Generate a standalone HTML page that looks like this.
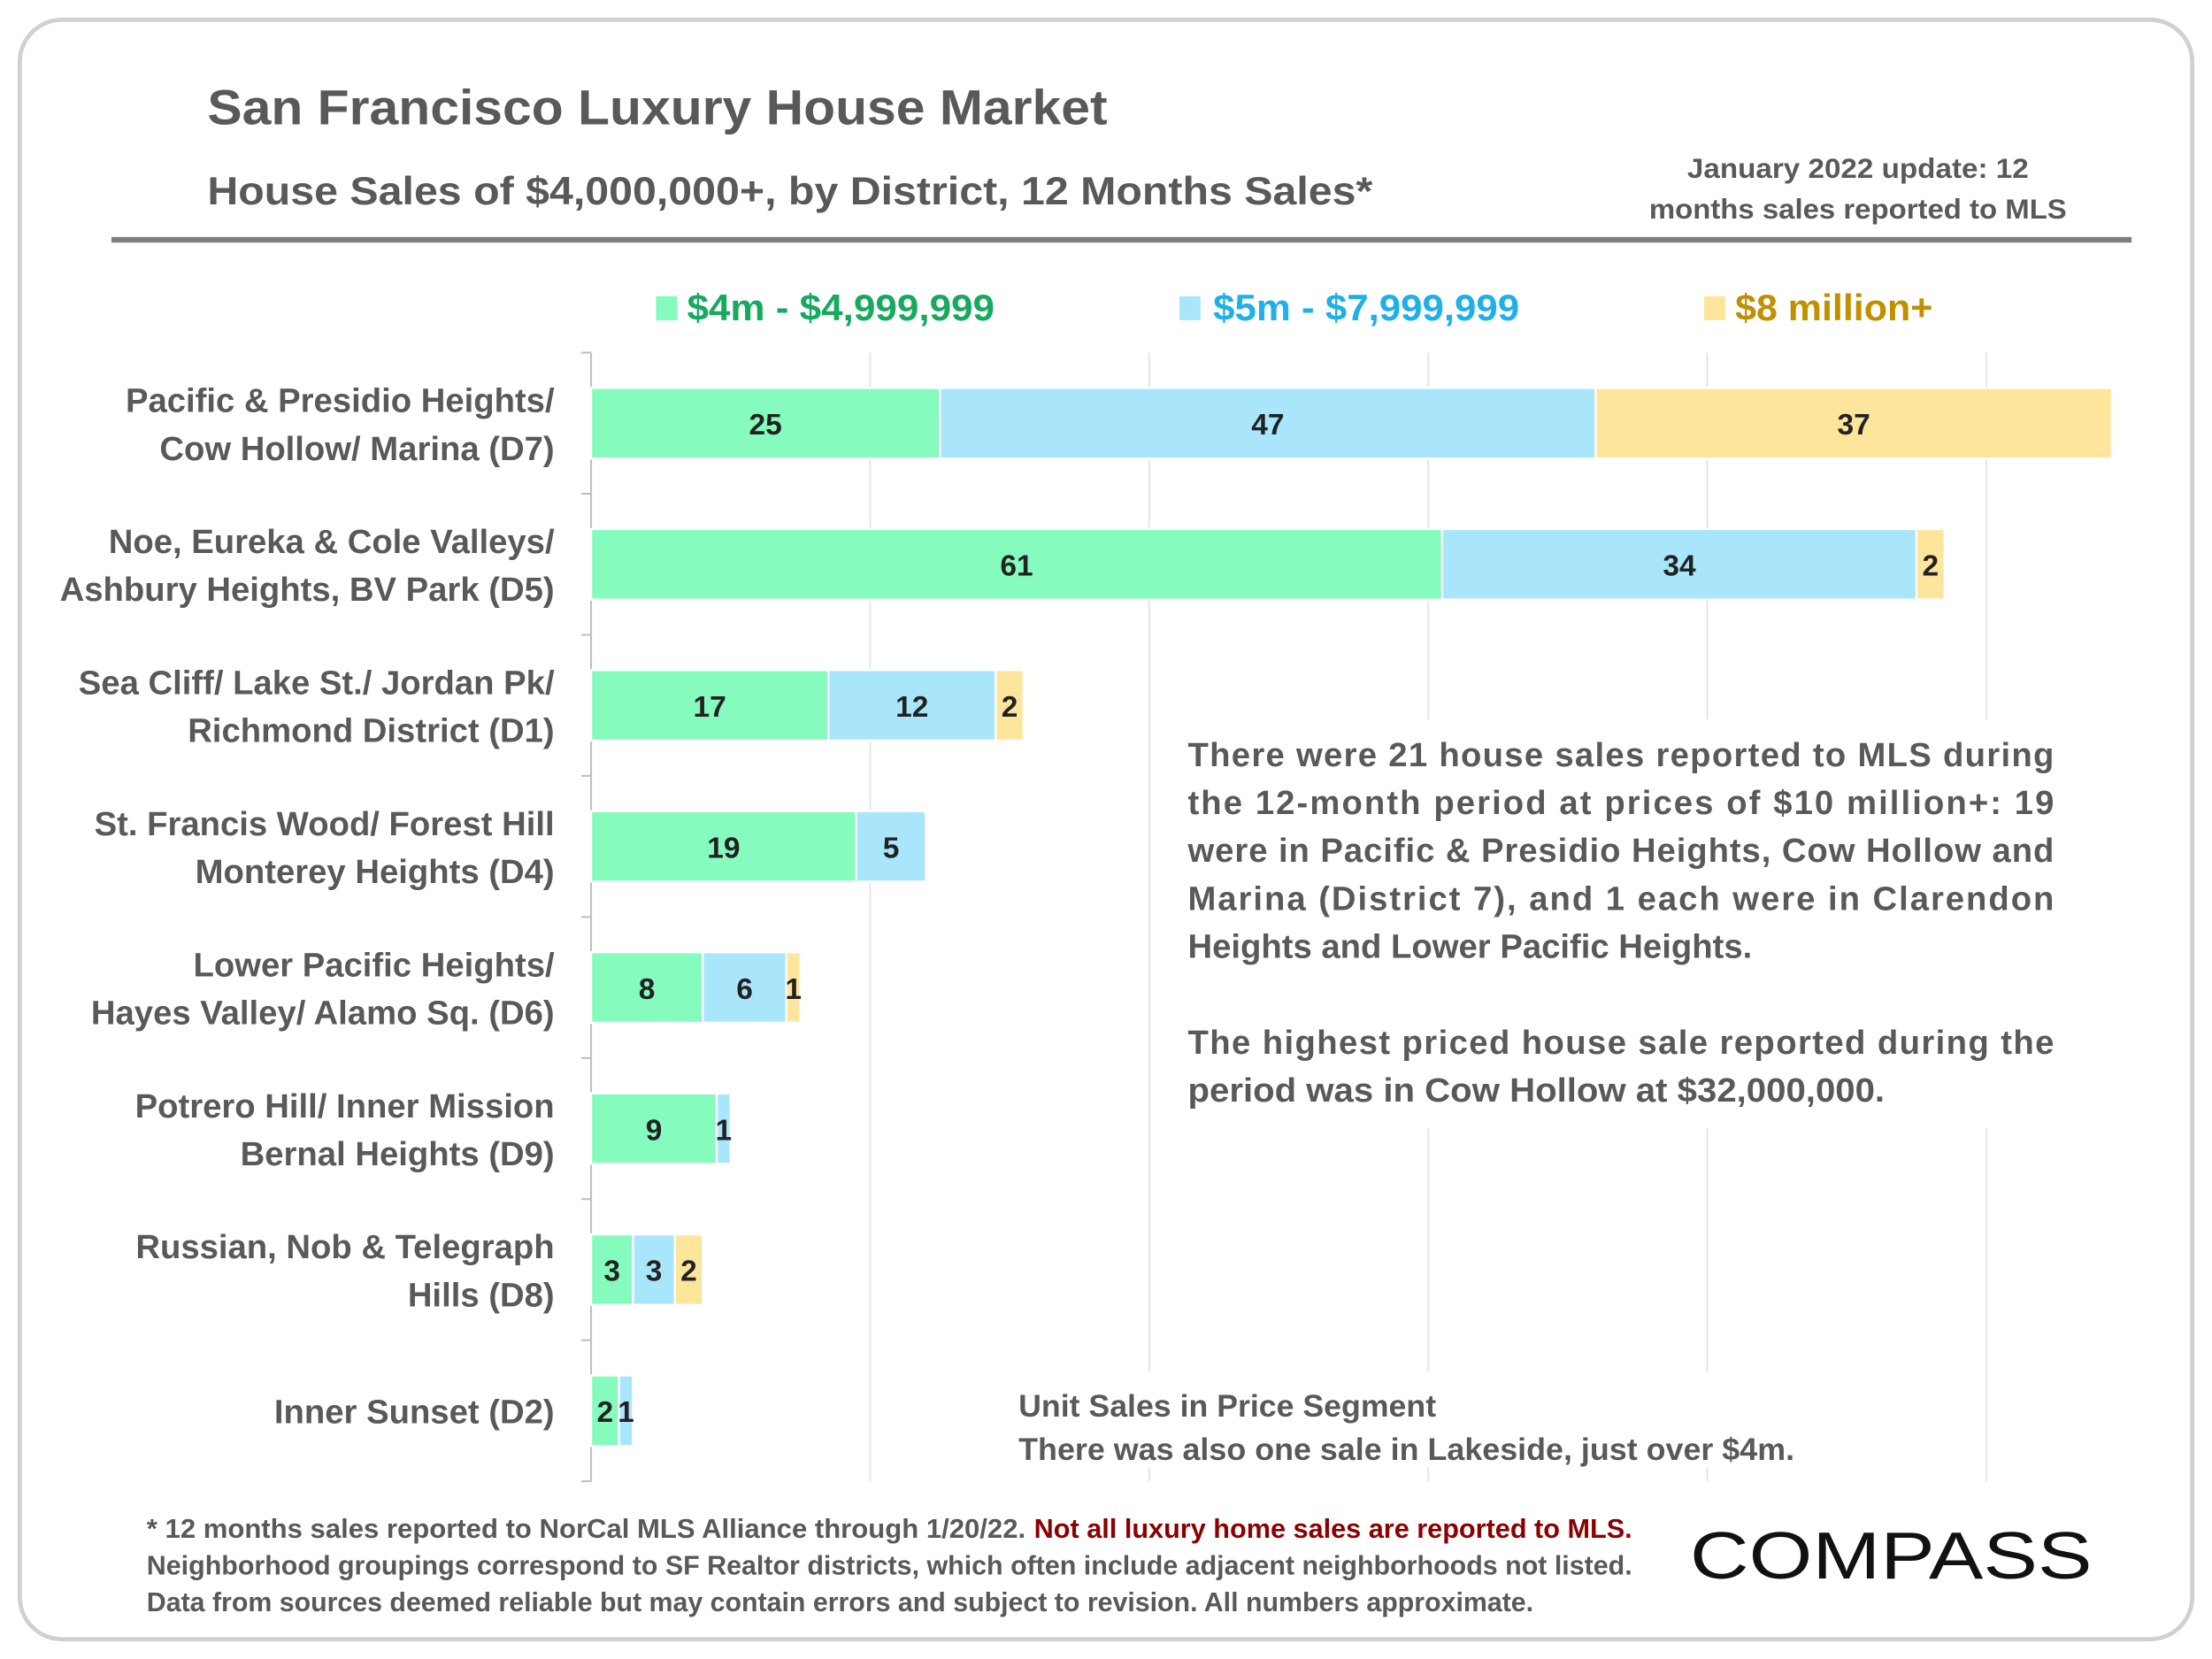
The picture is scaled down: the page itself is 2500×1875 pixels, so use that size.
<!DOCTYPE html>
<html><head><meta charset="utf-8"><style>
html,body{margin:0;padding:0;background:#fff;}
svg{display:block;font-family:"Liberation Sans",sans-serif;}
</style></head><body>
<svg id="chart" width="2500" height="1875" viewBox="0 0 1568 1176">
<rect x="14" y="14" width="1540" height="1148" rx="30" fill="#fff" stroke="#d0d0d0" stroke-width="3"/>
<text x="147" y="88" font-size="35" font-weight="bold" fill="#595959" textLength="638" lengthAdjust="spacingAndGlyphs">San Francisco Luxury House Market</text>
<text x="147" y="145" font-size="28" font-weight="bold" fill="#595959" textLength="826" lengthAdjust="spacingAndGlyphs">House Sales of $4,000,000+, by District, 12 Months Sales*</text>
<text x="1317" y="126" font-size="20" font-weight="bold" fill="#595959" text-anchor="middle" textLength="242" lengthAdjust="spacingAndGlyphs">January 2022 update: 12</text>
<text x="1317" y="155" font-size="20" font-weight="bold" fill="#595959" text-anchor="middle" textLength="296" lengthAdjust="spacingAndGlyphs">months sales reported to MLS</text>
<rect x="79" y="168" width="1432" height="4" fill="#7f7f7f"/>
<g>
<rect x="465" y="210" width="15" height="17" fill="#86fbbe"/>
<text x="487" y="227" font-size="26" font-weight="bold" fill="#17a95e" textLength="218" lengthAdjust="spacingAndGlyphs">$4m - $4,999,999</text>
<rect x="836" y="210" width="15" height="17" fill="#a9e6fc"/>
<text x="860" y="227" font-size="26" font-weight="bold" fill="#1fb0e6" textLength="217" lengthAdjust="spacingAndGlyphs">$5m - $7,999,999</text>
<rect x="1208" y="210" width="15" height="17" fill="#fde59b"/>
<text x="1230" y="227" font-size="26" font-weight="bold" fill="#bf9000" textLength="140" lengthAdjust="spacingAndGlyphs">$8 million+</text>
</g>
<g id="grid"></g>
<g id="bars"></g>
<g id="labels"></g>
<rect x="825" y="510" width="645" height="290" fill="#fff"/>
<g font-size="24" font-weight="bold" fill="#595959">
<text x="842" y="543" textLength="614" lengthAdjust="spacing">There were 21 house sales reported to MLS during</text>
<text x="842" y="577" textLength="614" lengthAdjust="spacing">the 12-month period at prices of $10 million+:  19</text>
<text x="842" y="611" textLength="614" lengthAdjust="spacing">were in Pacific &amp; Presidio Heights, Cow Hollow and</text>
<text x="842" y="645" textLength="614" lengthAdjust="spacing">Marina (District 7), and 1 each were in Clarendon</text>
<text x="842" y="679" textLength="400" lengthAdjust="spacingAndGlyphs">Heights and Lower Pacific Heights.</text>
<text x="842" y="747" textLength="614" lengthAdjust="spacing">The highest priced house sale reported during the</text>
<text x="842" y="781" textLength="494" lengthAdjust="spacingAndGlyphs">period was in Cow Hollow at $32,000,000.</text>
</g>
<rect x="705" y="972" width="600" height="68" fill="#fff"/>
<text x="722" y="1004" font-size="22" font-weight="bold" fill="#595959" textLength="296" lengthAdjust="spacingAndGlyphs">Unit Sales in Price Segment</text>
<text x="722" y="1035" font-size="22" font-weight="bold" fill="#595959" textLength="550" lengthAdjust="spacingAndGlyphs">There was also one sale in Lakeside, just over $4m.</text>
<g font-size="19" font-weight="bold" fill="#595959">
<text x="104" y="1090"><tspan textLength="623" lengthAdjust="spacingAndGlyphs">* 12 months sales reported to NorCal MLS Alliance through 1/20/22.</tspan> <tspan x="733" fill="#8b0000" textLength="424" lengthAdjust="spacingAndGlyphs">Not all luxury home sales are reported to MLS.</tspan></text>
<text x="104" y="1116" textLength="1053" lengthAdjust="spacingAndGlyphs">Neighborhood groupings correspond to SF Realtor districts, which often include adjacent neighborhoods not listed.</text>
<text x="104" y="1142" textLength="983" lengthAdjust="spacingAndGlyphs">Data from sources deemed reliable but may contain errors and subject to revision. All numbers approximate.</text>
</g>
<text x="1198" y="1119" font-size="47" fill="#111" textLength="285" lengthAdjust="spacingAndGlyphs">COMPASS</text>
<script>
const categories=[["Pacific & Presidio Heights/","Cow Hollow/ Marina (D7)"],["Noe, Eureka & Cole Valleys/","Ashbury Heights, BV Park (D5)"],["Sea Cliff/ Lake St./ Jordan Pk/","Richmond District (D1)"],["St. Francis Wood/ Forest Hill","Monterey Heights (D4)"],["Lower Pacific Heights/","Hayes Valley/ Alamo Sq. (D6)"],["Potrero Hill/ Inner Mission","Bernal Heights (D9)"],["Russian, Nob & Telegraph","Hills (D8)"],["Inner Sunset (D2)"]];
const s4m=[25,61,17,19,8,9,3,2];
const s5m=[47,34,12,5,6,1,3,1];
const s8m=[37,2,2,0,1,0,2,0];
const gridTicks=[0,20,40,60,80,100];
const NS="http://www.w3.org/2000/svg";
const x0=419,pxPerUnit=9.89,yTop=250,band=100,barH=50;
const xs=v=>x0+v*pxPerUnit;
const yc=i=>yTop+band*i+band/2;
function mk(tag,attrs,parent){const e=document.createElementNS(NS,tag);for(const k in attrs)e.setAttribute(k,attrs[k]);parent.appendChild(e);return e;}
const grid=document.getElementById('grid'),bars=document.getElementById('bars'),labels=document.getElementById('labels');
gridTicks.forEach(t=>{if(t===0)return;const l=mk('line',{x1:xs(t),x2:xs(t),y1:yTop,y2:yTop+band*categories.length,stroke:'#e6e6e6','stroke-width':1.3},grid);

});
const ax=mk('line',{x1:x0,x2:x0,y1:yTop,y2:yTop+band*categories.length,stroke:'#bfbfbf','stroke-width':1.3},grid);


for(let i=0;i<=categories.length;i++){const t=mk('line',{x1:x0-7,x2:x0,y1:yTop+band*i,y2:yTop+band*i,stroke:'#bfbfbf','stroke-width':1.3},grid);

}
const series=[[s4m,'#86fbbe','4m'],[s5m,'#a9e6fc','5m'],[s8m,'#fde59b','8m']];
categories.forEach((c,i)=>{let acc=0;
series.forEach(([arr,col,nm])=>{const v=arr[i];if(v>0){const r=mk('rect',{x:xs(acc),y:yc(i)-barH/2,width:v*pxPerUnit,height:barH,fill:col,stroke:'#fff','stroke-width':1.5},bars);


const t=mk('text',{x:xs(acc+v/2),y:yc(i)+8,'font-size':21,'font-weight':'bold',fill:'#222','text-anchor':'middle'},bars);t.textContent=v;

}
acc+=v;});
const lines=c;const g=mk('text',{'font-size':24,'font-weight':'bold',fill:'#595959','text-anchor':'end'},labels);


lines.forEach((ln,j)=>{const dy=lines.length===1?0:(j===0?-17:17);const ts=mk('tspan',{x:393,y:yc(i)+dy+9},g);ts.textContent=ln;});});
</script>
</svg>
</body></html>
